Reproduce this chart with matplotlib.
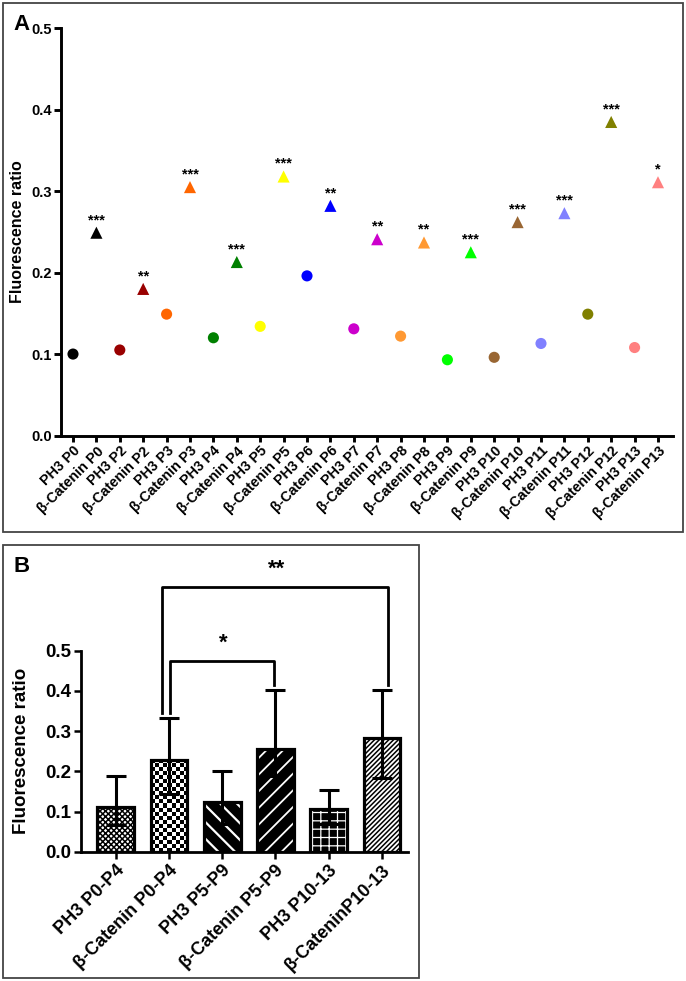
import numpy as np
import matplotlib
matplotlib.use("Agg")
import matplotlib.pyplot as plt
from matplotlib.patches import Rectangle

plt.rcParams["font.family"] = ["Liberation Sans", "DejaVu Sans"]
plt.rcParams["font.weight"] = "bold"

# ---- panel A data ----
stages = ["P0", "P2", "P3", "P4", "P5", "P6", "P7", "P8", "P9", "P10", "P11", "P12", "P13"]
ph3_ratio = [0.100, 0.105, 0.149, 0.120, 0.134, 0.196, 0.131, 0.122, 0.093, 0.096, 0.113, 0.149, 0.108]
bcat_ratio = [0.249, 0.180, 0.305, 0.213, 0.318, 0.282, 0.241, 0.237, 0.225, 0.262, 0.273, 0.385, 0.311]
bcat_sig = ["***", "**", "***", "***", "***", "**", "**", "**", "***", "***", "***", "***", "*"]
stage_colors = ["#000000", "#990000", "#FF6600", "#008000", "#FFFF00", "#0000FF", "#CC00CC",
                "#FF9933", "#00FF00", "#996633", "#8080FF", "#808000", "#FF8080"]

# ---- panel B data ----
group_labels = ["PH3 P0-P4", "\u03b2-Catenin P0-P4", "PH3 P5-P9", "\u03b2-Catenin P5-P9",
                "PH3 P10-13", "\u03b2-CateninP10-13"]
group_means = [0.113, 0.229, 0.124, 0.255, 0.107, 0.282]
group_err_top = [0.189, 0.333, 0.201, 0.403, 0.155, 0.403]
group_err_bot = [0.066, 0.144, 0.070, 0.188, 0.070, 0.184]
bracket_pairs = [(1, 3), (1, 5)]
bracket_tops = [0.475, 0.659]
bracket_labels = ["*", "**"]

W, H = 686, 981
fig = plt.figure(figsize=(W / 100, H / 100), dpi=100)

# panel frames
for (x0, y0, x1, y1) in [(3, 3, 683, 532), (3, 545, 419, 978)]:
    fig.add_artist(Rectangle((x0 / W, 1 - y1 / H), (x1 - x0) / W, (y1 - y0) / H,
                             transform=fig.transFigure, fill=False, ec="#444444", lw=1.3))

# ================= panel A =================
axA = fig.add_axes([61.3 / W, 1 - 435.5 / H, (672.5 - 61.3) / W, (435.5 - 28.3) / H])
x_ph3 = np.arange(len(stages)) * 2
x_bcat = x_ph3 + 1
axA.scatter(x_ph3, ph3_ratio, c=stage_colors, marker="o", s=64, linewidths=0, zorder=3)
axA.scatter(x_bcat, bcat_ratio, c=stage_colors, marker="^", s=76, linewidths=0, zorder=3)
for x, y, s in zip(x_bcat, bcat_ratio, bcat_sig):
    axA.annotate(s, (x, y), xytext=(0, 4), textcoords="offset points",
                 ha="center", va="bottom", fontsize=10.5, fontweight="bold")

xlabels = []
for s in stages:
    xlabels += ["PH3 " + s, "\u03b2-Catenin " + s]
axA.set_xticks(np.arange(len(xlabels)))
axA.set_xticklabels(xlabels, rotation=45, ha="right", rotation_mode="anchor",
                    fontsize=10.3, fontweight="bold")
axA.set_xlim(-0.5, 25.62)
axA.set_ylim(0, 0.5)
axA.set_yticks(np.arange(0, 0.51, 0.1))
axA.set_yticklabels(["%.1f" % v for v in np.arange(0, 0.51, 0.1)], fontsize=10.5, fontweight="bold")
axA.set_ylabel("Fluorescence ratio", fontsize=11.5, fontweight="bold")
axA.yaxis.set_label_coords(-0.060, 0.5)
for sp in ["top", "right"]:
    axA.spines[sp].set_visible(False)
for sp in ["left", "bottom"]:
    axA.spines[sp].set_linewidth(2.1)
axA.tick_params(direction="out", width=2.1, length=5, pad=2)
axA.tick_params(axis="x", length=4)

fig.text(22 / W, 1 - 25 / H, "A", fontsize=16, fontweight="bold", ha="center", va="center")

# ================= panel B =================
axB = fig.add_axes([81 / W, 1 - 852 / H, (408 - 81) / W, (852 - 650.7) / H])
xb = np.arange(len(group_labels))
bw = 0.69
axB.set_xlim(-0.65, 5.49)
axB.set_ylim(0, 0.5)

# face/hatch styles: (facecolor, hatchcolor, hatch, hatch linewidth)
styles = [("white", "black", "xxxxxx", 1.1),
          ("white", "black", None, 1.0),
          ("black", "white", "\\\\", 1.6),
          ("black", "white", "//", 1.3),
          ("black", "white", "++", 0.9),
          ("white", "black", "///////", 1.1)]
for i, (fc, hc, hatch, hlw) in enumerate(styles):
    with plt.rc_context({"hatch.linewidth": hlw}):
        p = axB.bar(xb[i], group_means[i], width=bw, color=fc, edgecolor=hc,
                    hatch=hatch, linewidth=0, zorder=2)[0]
        try:
            p.set_hatch_linewidth(hlw)
        except AttributeError:
            pass
    if hatch is None:
        # checkerboard texture clipped to the bar
        (px0, py0), (px1, py1) = axB.transData.transform(
            [(p.get_x(), 0), (p.get_x() + p.get_width(), p.get_height())])
        nx = max(1, int(round((px1 - px0) / 4.0)))
        ny = max(1, int(round((py1 - py0) / 4.0)))
        board = np.indices((ny, nx)).sum(axis=0) % 2
        axB.imshow(board, cmap="gray", interpolation="nearest", aspect="auto",
                   extent=(p.get_x(), p.get_x() + p.get_width(), 0, p.get_height()),
                   origin="lower", clip_path=p, zorder=2.1)
axB.bar(xb, group_means, width=bw, facecolor="none", edgecolor="black", linewidth=2.3, zorder=2.2)

lo = np.array(group_means) - np.array(group_err_bot)
hi = np.array(group_err_top) - np.array(group_means)
axB.errorbar(xb, group_means, yerr=[lo, hi], fmt="none", ecolor="black",
             elinewidth=2.2, capsize=7, capthick=2.2, zorder=3)

axB.set_xlim(-0.65, 5.49)
axB.set_ylim(0, 0.5)

leg_offsets = [(0.03, -0.03), (-0.12, 0.12)]
star_y = [0.519, 0.703]
for (a, b), top, lab, (oa, ob), sy in zip(bracket_pairs, bracket_tops, bracket_labels, leg_offsets, star_y):
    ya = group_err_top[a] + 0.013
    yb = group_err_top[b] + 0.013
    axB.plot([a + oa, a + oa, b + ob, b + ob], [ya, top, top, yb], color="black",
             lw=2.0, clip_on=False, solid_joinstyle="round", zorder=4)
    axB.text((a + b) / 2 + 0.03, sy, lab, ha="center", va="center", fontsize=16,
             fontweight="bold", clip_on=False)

axB.set_xticks(xb)
axB.set_xticklabels(group_labels, rotation=45, ha="right", rotation_mode="anchor",
                    fontsize=13, fontweight="bold")
axB.set_yticks(np.arange(0, 0.51, 0.1))
axB.set_yticklabels(["%.1f" % v for v in np.arange(0, 0.51, 0.1)], fontsize=13.5, fontweight="bold")
axB.set_ylabel("Fluorescence ratio", fontsize=13.5, fontweight="bold")
axB.yaxis.set_label_coords(-0.156, 0.5)
for sp in ["top", "right"]:
    axB.spines[sp].set_visible(False)
for sp in ["left", "bottom"]:
    axB.spines[sp].set_linewidth(2.0)
axB.tick_params(direction="out", width=1.8, length=5, pad=2)

fig.text(22 / W, 1 - 566 / H, "B", fontsize=16, fontweight="bold", ha="center", va="center")

fig.savefig("out.png", dpi=100)
